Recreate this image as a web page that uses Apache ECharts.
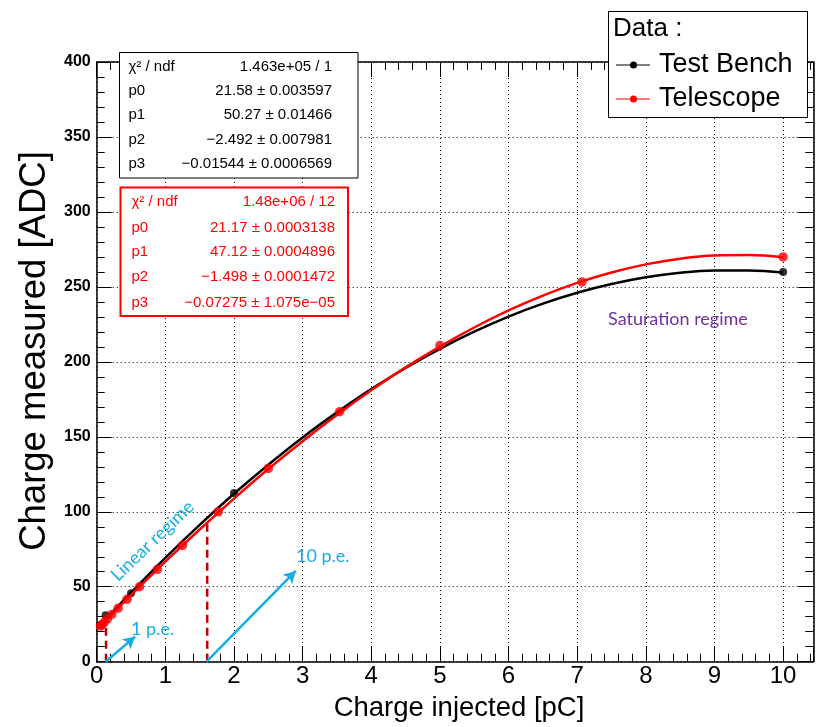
<!DOCTYPE html>
<html><head><meta charset="utf-8">
<script src="https://cdn.jsdelivr.net/npm/echarts@6/dist/echarts.min.js"></script>
<style>html,body{margin:0;padding:0;background:#fff}#c{width:818px;height:727px}</style>
</head><body><div id="c"></div>
<script>
// ---- data ----
const benchX = [0.055, 0.13, 0.5, 2, 10];
const benchY = [24.3, 31.0, 45.7, 112.5, 260.0];
const teleX = [0.055, 0.078, 0.11, 0.156, 0.221, 0.3125, 0.442, 0.625, 0.884, 1.25, 1.77, 2.5, 3.54, 5.0, 7.07, 10.0];
const teleY = [23.8, 24.8, 26.3, 28.5, 31.5, 35.7, 41.6, 50.0, 61.6, 77.5, 100.0, 128.9, 166.8, 210.9, 253.3, 270.0];
const benchFitX = [0.055, 0.13, 0.5, 1, 1.5, 2, 2.5, 3, 3.5, 4, 4.5, 5, 5.5, 6, 6.5, 7, 7.5, 8, 8.5, 9, 9.5, 10];
const benchFitY = [24.3, 28.1, 46.1, 69.3, 91.3, 112.0, 131.4, 149.6, 166.3, 181.8, 195.9, 208.7, 220.1, 230.2, 238.8, 246.1, 251.9, 256.4, 259.4, 260.9, 261.0, 259.6];
const teleFitX = [0.055, 0.25, 0.5, 1, 1.5, 2, 2.5, 3, 3.5, 4, 4.5, 5, 5.5, 6, 6.5, 7, 7.5, 8, 8.5, 9, 9.5, 10];
const teleFitY = [23.8, 32.9, 44.4, 66.7, 88.2, 108.8, 128.5, 147.1, 164.6, 181.0, 196.3, 210.2, 222.9, 234.3, 244.2, 252.7, 259.6, 265.0, 268.8, 270.9, 271.2, 269.8];
const xTicks = [0, 1, 2, 3, 4, 5, 6, 7, 8, 9, 10];
const yTicks = [0, 50, 100, 150, 200, 250, 300, 350, 400];
const seriesNames = ['Test Bench', 'Telescope'];
const benchStats = [['χ² / ndf', '1.463e+05 / 1'], ['p0', '21.58 ± 0.003597'], ['p1', '50.27 ± 0.01466'], ['p2', '−2.492 ± 0.007981'], ['p3', '−0.01544 ± 0.0006569']];
const teleStats = [['χ² / ndf', '1.48e+06 / 12'], ['p0', '21.17 ± 0.0003138'], ['p1', '47.12 ± 0.0004896'], ['p2', '−1.498 ± 0.0001472'], ['p3', '−0.07275 ± 1.075e−05']];
// annotation geometry in data coordinates
const dash1 = [[0.136, 0], [0.136, 29]];
const dash2 = [[1.61, 0], [1.61, 97]];
const arrow1 = [[0.13, 0], [0.56, 16.7]];
const arrow2 = [[1.6, 0], [2.9, 60.5]];

const zip = (xs, ys) => xs.map((x, i) => [x, ys[i]]);
const FONT = '"Liberation Sans", Arial, sans-serif';
const ANN = 'Lato, "Open Sans", sans-serif';
const CYAN = '#14aee6';

const chart = echarts.init(document.getElementById('c'), null, {renderer: 'canvas'});
const L = 96.7, T = 62, R = 813.3, B = 661.7;

function axisCommon() {
  return {
    axisLine: {show: true, onZero: false, lineStyle: {color: '#000', width: 1.5}},
    axisTick: {show: true, inside: true, length: 15, lineStyle: {color: '#000', width: 1}},
    minorTick: {show: true, splitNumber: 5, length: 8, lineStyle: {color: '#000', width: 1}},
  };
}
const xFmt = v => (xTicks.indexOf(Math.round(v * 1000) / 1000) >= 0 ? String(v) : '');
const yFmt = v => (yTicks.indexOf(v) >= 0 ? String(v) : '');

const option = {
  animation: false,
  backgroundColor: '#fff',
  grid: {left: L, top: T, width: R - L, height: B - T, containLabel: false},
  xAxis: [
    Object.assign({type: 'value', position: 'bottom', min: 0, max: 10.44, interval: 1,
      axisLabel: {formatter: xFmt, showMaxLabel: false, color: '#000', fontSize: 24, fontFamily: FONT, margin: 3},
      splitLine: {show: true, lineStyle: {color: '#000', width: 1, type: [1, 3]}}}, axisCommon()),
    Object.assign({type: 'value', position: 'top', min: 0, max: 10.44, interval: 1,
      axisLabel: {show: false}, splitLine: {show: false}}, axisCommon())
  ],
  yAxis: [
    Object.assign({type: 'value', position: 'left', min: 0, max: 400, interval: 50,
      axisLabel: {formatter: yFmt, color: '#000', fontSize: 16, fontWeight: 'bold', fontFamily: FONT, margin: 6},
      splitLine: {show: true, lineStyle: {color: '#000', width: 1, type: [1, 3]}}}, axisCommon()),
    Object.assign({type: 'value', position: 'right', min: 0, max: 400, interval: 50,
      axisLabel: {show: false}, splitLine: {show: false}}, axisCommon())
  ],
  series: [
    {name: 'dash1', type: 'line', data: dash1, symbol: 'none', silent: true,
      lineStyle: {color: '#c00000', width: 2.5, type: [8, 5]}, z: 1},
    {name: 'dash2', type: 'line', data: dash2, symbol: 'none', silent: true,
      lineStyle: {color: '#c00000', width: 2.5, type: [8, 5]}, z: 1,
      markLine: {silent: true, symbol: ['none', 'arrow'], symbolSize: [10, 12], label: {show: false},
        lineStyle: {color: CYAN, width: 2.5, type: 'solid'},
        data: [
          [{coord: arrow1[0]}, {coord: arrow1[1]}],
          [{coord: arrow2[0]}, {coord: arrow2[1]}]
        ]}},
    {name: seriesNames[0] + ' fit', type: 'line', data: zip(benchFitX, benchFitY), symbol: 'none', smooth: 0.4,
      lineStyle: {color: '#000', width: 2.5}, z: 2},
    {name: seriesNames[0], type: 'scatter', data: zip(benchX, benchY), symbol: 'circle', symbolSize: 8,
      itemStyle: {color: '#000'}, z: 3},
    {name: seriesNames[1] + ' fit', type: 'line', data: zip(teleFitX, teleFitY), symbol: 'none', smooth: 0.4,
      lineStyle: {color: '#ff0000', width: 2.5}, z: 4},
    {name: seriesNames[1], type: 'scatter', data: zip(teleX, teleY), symbol: 'circle', symbolSize: 9.5,
      itemStyle: {color: '#ff0000'}, z: 5}
  ],
  graphic: []
};

function statBox(x, y, w, h, rows, color, borderW, rowY, leftX, rightX) {
  const els = [{type: 'rect', shape: {x: x, y: y, width: w, height: h},
    style: {fill: '#fff', stroke: color, lineWidth: borderW}, z: 100}];
  rows.forEach((r, i) => {
    els.push({type: 'text', x: leftX, y: rowY[i], z: 101,
      style: {text: r[0], fill: color, font: '15px ' + FONT, textAlign: 'left', textVerticalAlign: 'middle'}});
    els.push({type: 'text', x: rightX, y: rowY[i], z: 101,
      style: {text: r[1], fill: color, font: '15px ' + FONT, textAlign: 'right', textVerticalAlign: 'middle'}});
  });
  return els;
}
let g = [];
g = g.concat(statBox(119.5, 52.5, 238.5, 125.5, benchStats, '#000', 1, [67, 91, 115, 140, 164], 128.5, 332));
g = g.concat(statBox(120.5, 187.5, 227.5, 128.5, teleStats, '#ff0000', 2, [202, 228, 252, 277, 303], 131.5, 335));
// legend
g.push({type: 'rect', shape: {x: 608.5, y: 11.5, width: 199, height: 106}, style: {fill: '#fff', stroke: '#000', lineWidth: 1}, z: 100});
g.push({type: 'text', x: 613, y: 29, z: 101, style: {text: 'Data :', fill: '#000', font: '26px ' + FONT, textAlign: 'left', textVerticalAlign: 'middle'}});
[['#000', 65], ['#ff0000', 99]].forEach((it, i) => {
  g.push({type: 'line', shape: {x1: 616, y1: it[1], x2: 650, y2: it[1]}, style: {stroke: it[0], lineWidth: 1.2}, z: 101});
  g.push({type: 'circle', shape: {cx: 633.5, cy: it[1], r: 3.5}, style: {fill: it[0]}, z: 102});
  g.push({type: 'text', x: 659, y: it[1], z: 101, style: {text: seriesNames[i], fill: '#000', font: '27px ' + FONT, textAlign: 'left', textVerticalAlign: 'middle'}});
});
// titles
g.push({type: 'text', x: 459, y: 708, z: 50, style: {text: 'Charge injected [pC]', fill: '#000', font: '27.5px ' + FONT, textAlign: 'center', textVerticalAlign: 'middle'}});
g.push({type: 'text', x: 35, y: 351, rotation: Math.PI / 2, z: 50, style: {text: 'Charge measured [ADC]', fill: '#000', font: '36.5px ' + FONT, textAlign: 'center', textVerticalAlign: 'middle'}});
// annotations
g.push({type: 'text', x: 152.5, y: 541, rotation: 43.7 * Math.PI / 180, z: 50, style: {text: 'Linear regime', fill: CYAN, font: '18px ' + ANN, textAlign: 'center', textVerticalAlign: 'middle'}});
g.push({type: 'text', x: 131, y: 629, z: 50, style: {text: '1 p.e.', fill: CYAN, font: '18px ' + ANN, textAlign: 'left', textVerticalAlign: 'middle'}});
g.push({type: 'text', x: 296, y: 556, z: 50, style: {text: '10 p.e.', fill: CYAN, font: '18px ' + ANN, textAlign: 'left', textVerticalAlign: 'middle'}});
g.push({type: 'text', x: 608, y: 319, z: 50, style: {text: 'Saturation regime', fill: '#7030a0', font: '18px ' + ANN, textAlign: 'left', textVerticalAlign: 'middle'}});
option.graphic = g;
chart.setOption(option);
</script></body></html>
